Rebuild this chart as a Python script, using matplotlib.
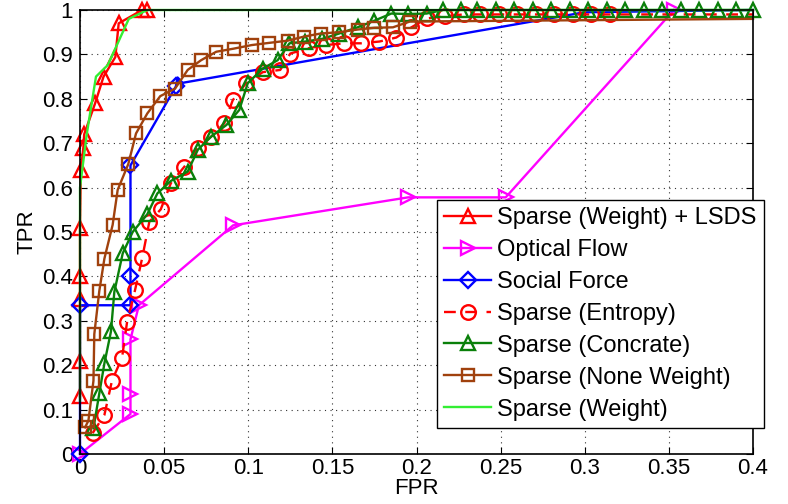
import matplotlib
matplotlib.use("Agg")
from matplotlib import pyplot as plt
import numpy as np

plt.rcParams["font.family"] = ["Liberation Sans", "DejaVu Sans"]

# ROC points (FPR, TPR)
lsds_fpr = [0, 0, 0, 0, 0, 0.0005, 0.002, 0.0025, 0.009, 0.014, 0.021, 0.023, 0.037, 0.040]
lsds_tpr = [0.13, 0.21, 0.35, 0.40, 0.51, 0.64, 0.69, 0.72, 0.79, 0.85, 0.894, 0.97, 1.0, 1.0]

flow_fpr = [0, 0.03, 0.03, 0.03, 0.035, 0.091, 0.195, 0.253, 0.353]
flow_tpr = [0, 0.09, 0.135, 0.258, 0.335, 0.515, 0.578, 0.578, 1.0]

social_fpr = [0, 0, 0.03, 0.03, 0.03, 0.057, 0.058, 0.061, 0.30, 0.40]
social_tpr = [0, 0.335, 0.335, 0.40, 0.65, 0.828, 0.848, 0.836, 0.995, 1.0]
social_marks = [0, 1, 2, 3, 4, 5]

entropy_fpr = [0.0075, 0.0145, 0.019, 0.025, 0.028, 0.0327, 0.037, 0.0412, 0.048, 0.054,
               0.062, 0.070, 0.078, 0.0858, 0.0908, 0.0987, 0.1086, 0.119, 0.125, 0.136,
               0.146, 0.157, 0.167, 0.178, 0.188, 0.197, 0.206, 0.217, 0.228, 0.238,
               0.249, 0.260, 0.271, 0.282, 0.293, 0.304, 0.315, 0.40]
entropy_tpr = [0.047, 0.088, 0.165, 0.217, 0.298, 0.369, 0.442, 0.523, 0.551, 0.61,
               0.647, 0.689, 0.715, 0.745, 0.797, 0.835, 0.86, 0.865, 0.902, 0.914,
               0.921, 0.925, 0.925, 0.929, 0.938, 0.961, 0.981, 0.986, 0.99, 0.99,
               0.99, 0.99, 0.99, 0.99, 0.99, 0.99, 0.99, 0.99]

concrate_fpr = [0.008, 0.0115, 0.0145, 0.0184, 0.0204, 0.0254, 0.0313, 0.040, 0.046, 0.054,
                0.064, 0.070, 0.078, 0.087, 0.0947, 0.0997, 0.1086, 0.1175, 0.1245, 0.134,
                0.144, 0.154, 0.165, 0.175, 0.185, 0.195, 0.206, 0.2156, 0.2265, 0.236,
                0.247, 0.258, 0.269, 0.280, 0.291, 0.302, 0.313, 0.324, 0.335, 0.346,
                0.357, 0.368, 0.379, 0.390, 0.400]
concrate_tpr = [0.058, 0.137, 0.204, 0.276, 0.365, 0.452, 0.50, 0.54, 0.587, 0.615,
                0.636, 0.685, 0.715, 0.741, 0.775, 0.835, 0.868, 0.887, 0.925, 0.929,
                0.935, 0.947, 0.961, 0.976, 0.992, 0.991, 0.992, 1.0, 1.0, 1.0,
                1.0, 1.0, 1.0, 1.0, 1.0, 1.0, 1.0, 1.0, 1.0, 1.0,
                1.0, 1.0, 1.0, 1.0, 1.0]

noweight_fpr = [0.003, 0.005, 0.008, 0.0085, 0.0115, 0.0145, 0.0194, 0.0224, 0.0287, 0.0333,
                0.040, 0.0477, 0.0565, 0.064, 0.072, 0.081, 0.0914, 0.102, 0.1125, 0.1235,
                0.133, 0.143, 0.154, 0.165, 0.175, 0.186, 0.196, 0.40]
noweight_tpr = [0.06, 0.075, 0.165, 0.27, 0.368, 0.44, 0.516, 0.595, 0.653, 0.722,
                0.767, 0.806, 0.823, 0.865, 0.887, 0.906, 0.913, 0.921, 0.926, 0.931,
                0.94, 0.947, 0.95, 0.956, 0.96, 0.961, 0.974, 0.98]

weight_fpr = [0, 0, 0.002, 0.004, 0.0095, 0.0165, 0.0224, 0.029, 0.040, 0.40]
weight_tpr = [0.12, 0.6, 0.66, 0.72, 0.85, 0.876, 0.925, 0.98, 1.0, 1.0]

x_ticks = [0, 0.05, 0.1, 0.15, 0.2, 0.25, 0.3, 0.35, 0.4]
x_ticklabels = ["0", "0.05", "0.1", "0.15", "0.2", "0.25", "0.3", "0.35", "0.4"]
y_ticks = [0, 0.1, 0.2, 0.3, 0.4, 0.5, 0.6, 0.7, 0.8, 0.9, 1.0]
y_ticklabels = ["0", "0.1", "0.2", "0.3", "0.4", "0.5", "0.6", "0.7", "0.8", "0.9", "1"]

FS = 16
LEG_FS = 17
LW = 1.7
MS = 10.5
GREEN = "#0a800a"
BROWN = "#a0410d"
LIME = "#33ee33"

fig = plt.figure(figsize=(7.88, 5.04), dpi=100)
ax = fig.add_axes([80 / 788, 1 - 454 / 504, 673 / 788, 444 / 504])

common = dict(linewidth=LW, markersize=MS, markerfacecolor="none", markeredgewidth=LW,
              clip_on=False)
ax.plot(lsds_fpr, lsds_tpr, "-^", color="red", label="Sparse (Weight) + LSDS", **common)
ax.plot(flow_fpr, flow_tpr, "->", color="magenta", label="Optical Flow", **common)
ax.plot(social_fpr, social_tpr, "-D", color="blue", label="Social Force",
        markevery=social_marks, **{**common, "markersize": 8})
ax.plot(entropy_fpr, entropy_tpr, "--o", color="red", label="Sparse (Entropy)",
        markevery=list(range(len(entropy_fpr) - 1)), dashes=(5, 4), **common)
ax.plot(concrate_fpr, concrate_tpr, "-^", color=GREEN, label="Sparse (Concrate)", **common)
ax.plot(noweight_fpr, noweight_tpr, "-s", color=BROWN, label="Sparse (None Weight)",
        markevery=list(range(len(noweight_fpr) - 1)), **{**common, "markersize": 8})
ax.plot(weight_fpr, weight_tpr, "-.", color=LIME, label="Sparse (Weight)",
        linestyle="-", linewidth=LW, markersize=3, clip_on=False)

ax.set_xlim(0, 0.4)
ax.set_ylim(0, 1)
ax.set_xticks(x_ticks)
ax.set_xticklabels(x_ticklabels)
ax.set_yticks(y_ticks)
ax.set_yticklabels(y_ticklabels)
ax.tick_params(direction="in", length=5, width=0.8, labelsize=FS, top=True, right=True)
ax.tick_params(axis="x", pad=3)
ax.tick_params(axis="y", pad=5)
ax.grid(True, linestyle=(0, (1, 4)), color="#333333", linewidth=0.8)
for side in ax.spines.values():
    side.set_linewidth(1.2)
ax.set_xlabel("FPR", fontsize=FS, labelpad=-1)
ax.set_ylabel("TPR", fontsize=FS, labelpad=3)

leg = fig.legend(loc="upper left", bbox_to_anchor=(437 / 788, 1 - 200 / 504),
                 fontsize=LEG_FS, frameon=True, fancybox=False, handlelength=2.0,
                 handletextpad=0.25, labelspacing=0.42, borderpad=0.3,
                 borderaxespad=0)
leg.get_frame().set_edgecolor("black")
leg.get_frame().set_linewidth(1.0)
leg.get_frame().set_alpha(1.0)

fig.savefig("out.png", dpi=100)
